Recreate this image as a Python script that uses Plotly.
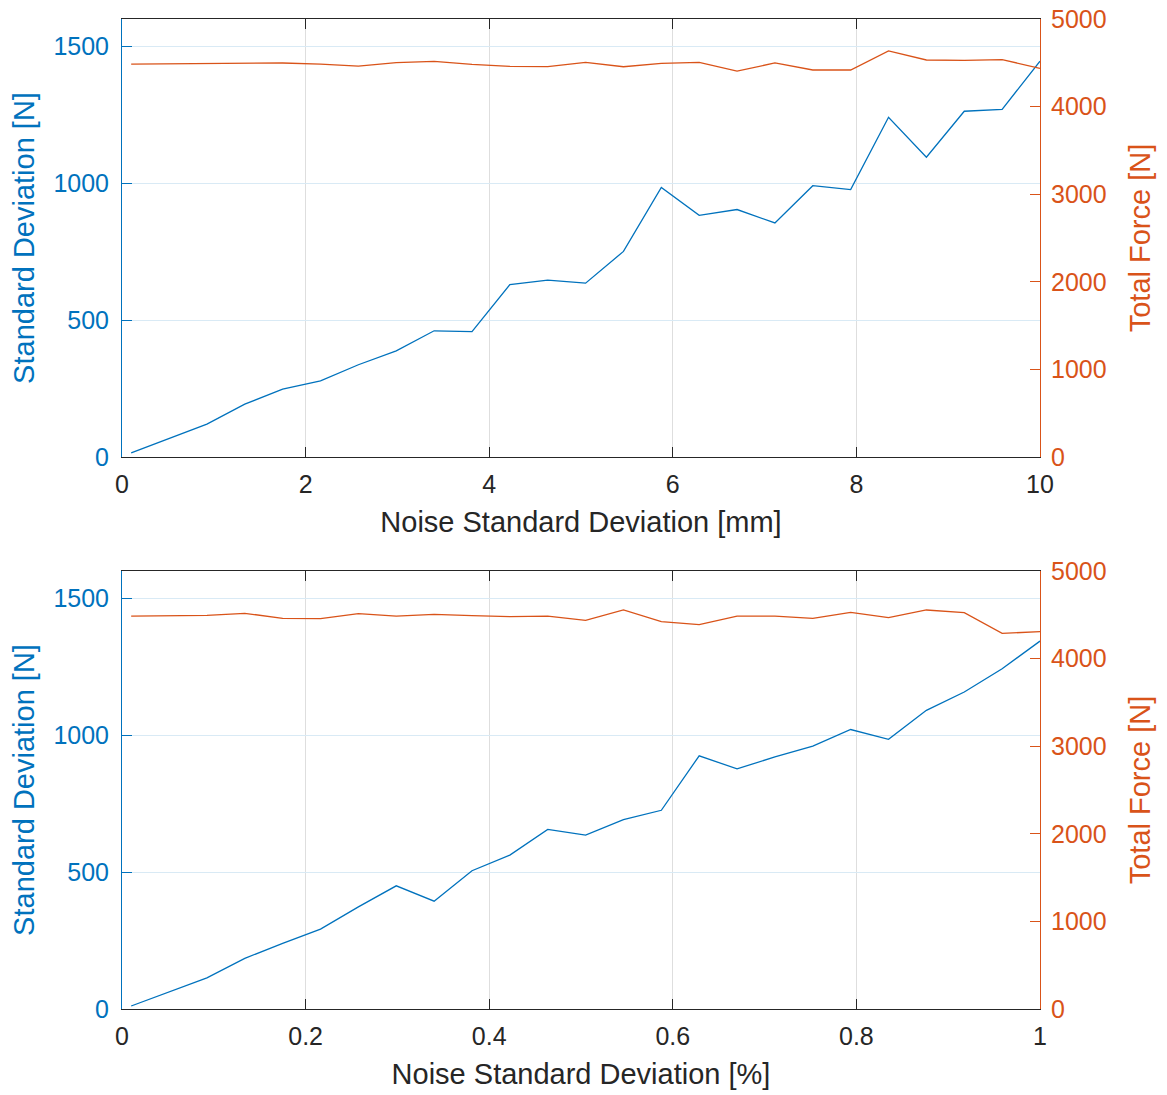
import plotly.graph_objects as go

# ---- data ----
x_mm = [0.1, 0.5125, 0.925, 1.3375, 1.75, 2.1625, 2.575, 2.9875, 3.4, 3.8125,
        4.225, 4.6375, 5.05, 5.4625, 5.875, 6.2875, 6.7, 7.1125, 7.525, 7.9375,
        8.35, 8.7625, 9.175, 9.5875, 10.0]
std_mm = [15, 68, 120, 193, 248, 278, 337, 388, 461, 458,
          630, 646, 635, 751, 985, 883, 904, 855, 991, 977,
          1241, 1095, 1263, 1270, 1446]
force_mm = [4486, 4490, 4498, 4501, 4498, 4486, 4463, 4501, 4517, 4483,
            4460, 4456, 4505, 4455, 4494, 4505, 4406, 4498, 4418, 4418,
            4635, 4532, 4528, 4536, 4437]

x_pct = [0.01, 0.05125, 0.0925, 0.13375, 0.175, 0.21625, 0.2575, 0.29875, 0.34, 0.38125,
         0.4225, 0.46375, 0.505, 0.54625, 0.5875, 0.62875, 0.67, 0.71125, 0.7525, 0.79375,
         0.835, 0.87625, 0.9175, 0.95875, 1.0]
std_pct = [11, 62, 114, 185, 240, 292, 373, 450, 394, 505,
           562, 656, 635, 692, 726, 925, 877, 921, 960, 1021,
           985, 1091, 1158, 1243, 1344]
force_pct = [4486, 4486, 4494, 4517, 4460, 4456, 4513, 4486, 4505, 4490,
             4479, 4486, 4437, 4555, 4421, 4387, 4486, 4486, 4460, 4528,
             4467, 4555, 4524, 4288, 4307]

xticks_mm = [0, 2, 4, 6, 8, 10]
xticks_pct = [0, 0.2, 0.4, 0.6, 0.8, 1]
left_ticks = [0, 500, 1000, 1500]
right_ticks = [0, 1000, 2000, 3000, 4000, 5000]

BLUE = "#0072BD"
ORANGE = "#D95319"
DARK = "#262626"
FONT = "Liberation Sans, Arial, sans-serif"

fig = go.Figure()
fig.add_trace(go.Scatter(x=x_mm, y=std_mm, mode="lines", line=dict(color=BLUE, width=1.3),
                         xaxis="x", yaxis="y", showlegend=False))
fig.add_trace(go.Scatter(x=x_mm, y=force_mm, mode="lines", line=dict(color=ORANGE, width=1.3),
                         xaxis="x", yaxis="y2", showlegend=False))
fig.add_trace(go.Scatter(x=x_pct, y=std_pct, mode="lines", line=dict(color=BLUE, width=1.3),
                         xaxis="x2", yaxis="y3", showlegend=False))
fig.add_trace(go.Scatter(x=x_pct, y=force_pct, mode="lines", line=dict(color=ORANGE, width=1.3),
                         xaxis="x2", yaxis="y4", showlegend=False))

xdom = [122 / 1167, 1040 / 1167]
top_dom = [(1095 - 457) / 1095, (1095 - 19) / 1095]
bot_dom = [(1095 - 1009) / 1095, (1095 - 571) / 1095]

tickfont = dict(family=FONT, size=25)
titlefont = dict(family=FONT, size=29)

def xax(anchor, rng, ticks, title):
    return dict(domain=xdom, anchor=anchor, range=rng, tickvals=ticks, automargin=False,
                showline=True, linecolor=DARK, linewidth=1, mirror="ticks",
                ticks="inside", ticklen=10, tickcolor=DARK, tickwidth=1,
                ticklabelstandoff=5,
                showgrid=True, gridcolor="#dedede", gridwidth=1, zeroline=False,
                tickfont=dict(color=DARK, **tickfont),
                title=dict(text=title, font=dict(color=DARK, **titlefont), standoff=14))

def yleft(dom, anchor):
    return dict(domain=dom, anchor=anchor, range=[0, 1600], tickvals=left_ticks, automargin=False,
                showline=True, linecolor=BLUE, linewidth=1,
                ticks="inside", ticklen=10, tickcolor=BLUE, tickwidth=1,
                ticklabelstandoff=7,
                showgrid=True, gridcolor="#d9eaf5", gridwidth=1, zeroline=False,
                tickfont=dict(color=BLUE, **tickfont),
                title=dict(text="Standard Deviation [N]", font=dict(color=BLUE, **titlefont), standoff=10))

def yright(overlay, anchor):
    return dict(overlaying=overlay, anchor=anchor, side="right", range=[0, 5000], tickvals=right_ticks,
                automargin=False,
                showline=True, linecolor=ORANGE, linewidth=1,
                ticks="inside", ticklen=10, tickcolor=ORANGE, tickwidth=1,
                ticklabelstandoff=5,
                showgrid=False, zeroline=False,
                tickfont=dict(color=ORANGE, **tickfont),
                title=dict(text="Total Force [N]", font=dict(color=ORANGE, **titlefont), standoff=24))

fig.update_layout(
    width=1167, height=1095,
    margin=dict(l=0, r=0, t=0, b=0),
    paper_bgcolor="white", plot_bgcolor="white",
    xaxis=xax("y", [0, 10], xticks_mm, "Noise Standard Deviation [mm]"),
    yaxis=yleft(top_dom, "x"),
    yaxis2=yright("y", "x"),
    xaxis2=xax("y3", [0, 1], xticks_pct, "Noise Standard Deviation [%]"),
    yaxis3=yleft(bot_dom, "x2"),
    yaxis4=yright("y3", "x2"),
)

fig.write_html("out.html")
